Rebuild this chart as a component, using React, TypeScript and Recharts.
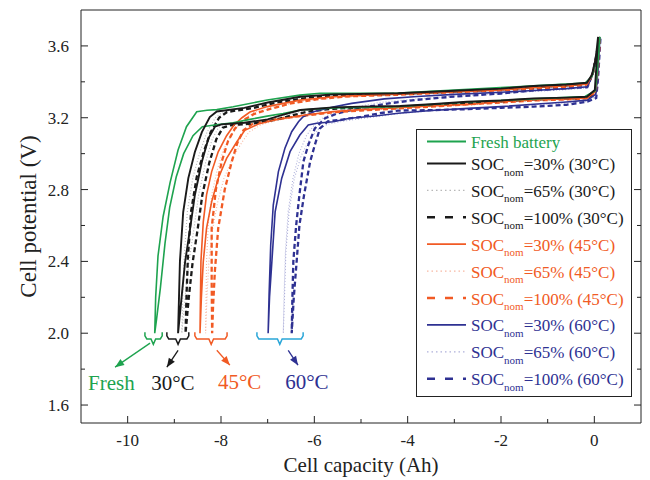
import { Legend, Line, LineChart, ReferenceDot, XAxis, YAxis } from "recharts";

const GREEN = "#1ea34f";
const BLACK = "#1a1a1a";
const ORANGE = "#f15a24";
const BLUE = "#2e3192";
const CYAN = "#2aa6d8";
const INK = "#222";

type Pt = [number, number];

// loops: spike top -> discharge (lower branch) -> 2.0 V -> charge (upper branch) -> spike top
const freshLoop: Pt[] = [
  [0.12, 3.65], [0.06, 3.45], [0.02, 3.35], [-0.2, 3.318], [-1.3, 3.305], [-2.7, 3.288], [-4.2, 3.262], [-5.6, 3.255],
  [-6.3, 3.243], [-6.67, 3.224], [-7.01, 3.209], [-7.38, 3.191], [-7.74, 3.172], [-8.06, 3.162], [-8.4, 3.15], [-8.6, 3.1],
  [-8.8, 3.0], [-8.96, 2.87], [-9.1, 2.7], [-9.2, 2.5], [-9.3, 2.25], [-9.38, 2.08], [-9.42, 2.0],
  [-9.4, 2.2], [-9.35, 2.43], [-9.24, 2.65], [-9.09, 2.84], [-8.92, 3.02], [-8.74, 3.15], [-8.52, 3.233], [-8.3, 3.242],
  [-8.09, 3.245], [-7.74, 3.261], [-7.01, 3.299], [-6.31, 3.326], [-5.88, 3.336], [-4.2, 3.338], [-2.7, 3.358],
  [-1.3, 3.378], [-0.2, 3.393], [-0.05, 3.43], [0.04, 3.52], [0.12, 3.65],
];

const soc30At30: Pt[] = [
  [0.08, 3.65], [0.04, 3.47], [0.01, 3.354], [-0.16, 3.317], [-0.6, 3.312], [-1.3, 3.308], [-2.0, 3.296], [-2.73, 3.289],
  [-3.5, 3.275], [-4.16, 3.265], [-5.0, 3.262], [-5.6, 3.258], [-6.3, 3.243], [-6.7, 3.215], [-7.0, 3.191], [-7.5, 3.172],
  [-7.99, 3.163], [-8.13, 3.15], [-8.27, 3.085], [-8.41, 2.955], [-8.56, 2.77], [-8.66, 2.586], [-8.77, 2.396], [-8.84, 2.212],
  [-8.92, 2.0],
  [-8.9, 2.2], [-8.88, 2.4], [-8.81, 2.675], [-8.7, 2.864], [-8.56, 3.009], [-8.41, 3.12], [-8.24, 3.204], [-8.09, 3.235],
  [-7.5, 3.255], [-7.0, 3.285], [-6.3, 3.317], [-5.6, 3.33], [-4.2, 3.336], [-3.0, 3.35], [-2.0, 3.362], [-1.3, 3.377],
  [-0.6, 3.385], [-0.16, 3.395], [-0.05, 3.44], [0.03, 3.53], [0.08, 3.65],
];

const soc65At30: Pt[] = [
  [0.09, 3.64], [0.05, 3.46], [0.02, 3.35], [-0.15, 3.315], [-0.6, 3.31], [-1.3, 3.305], [-2.0, 3.294], [-2.7, 3.286],
  [-3.5, 3.272], [-4.2, 3.263], [-5.0, 3.26], [-5.6, 3.254], [-6.2, 3.24], [-6.6, 3.214], [-6.9, 3.19], [-7.4, 3.17],
  [-7.9, 3.16], [-8.05, 3.147], [-8.19, 3.08], [-8.33, 2.95], [-8.48, 2.77], [-8.58, 2.58], [-8.69, 2.39], [-8.77, 2.2],
  [-8.84, 2.0],
  [-8.82, 2.2], [-8.79, 2.42], [-8.72, 2.68], [-8.6, 2.87], [-8.45, 3.01], [-8.3, 3.12], [-8.12, 3.2], [-7.95, 3.235],
  [-7.4, 3.258], [-6.9, 3.288], [-6.2, 3.315], [-5.5, 3.328], [-4.2, 3.335], [-3.0, 3.348], [-2.0, 3.36], [-1.3, 3.373],
  [-0.6, 3.383], [-0.15, 3.392], [-0.04, 3.44], [0.04, 3.55], [0.09, 3.64],
];

const soc100At30: Pt[] = [
  [0.1, 3.63], [0.06, 3.45], [0.03, 3.345], [-0.14, 3.312], [-0.6, 3.307], [-1.3, 3.302], [-2.0, 3.291], [-2.7, 3.283],
  [-3.5, 3.27], [-4.2, 3.26], [-5.0, 3.257], [-5.6, 3.25], [-6.1, 3.236], [-6.5, 3.212], [-6.8, 3.19], [-7.3, 3.168],
  [-7.8, 3.158], [-7.96, 3.145], [-8.1, 3.08], [-8.25, 2.95], [-8.4, 2.77], [-8.5, 2.58], [-8.61, 2.39], [-8.69, 2.2],
  [-8.76, 2.0],
  [-8.74, 2.2], [-8.71, 2.42], [-8.64, 2.68], [-8.52, 2.87], [-8.37, 3.01], [-8.22, 3.12], [-8.04, 3.2], [-7.87, 3.232],
  [-7.3, 3.255], [-6.8, 3.285], [-6.1, 3.312], [-5.4, 3.326], [-4.2, 3.333], [-3.0, 3.346], [-2.0, 3.358], [-1.3, 3.37],
  [-0.6, 3.38], [-0.14, 3.39], [-0.03, 3.45], [0.05, 3.56], [0.1, 3.63],
];

const soc30At45: Pt[] = [
  [0.11, 3.65], [0.06, 3.45], [0.02, 3.345], [-0.15, 3.31], [-0.6, 3.305], [-1.3, 3.3], [-2.0, 3.29], [-2.6, 3.275],
  [-3.5, 3.265], [-4.2, 3.256], [-5.0, 3.245], [-5.6, 3.234], [-6.2, 3.215], [-6.8, 3.19], [-7.2, 3.165], [-7.49, 3.13],
  [-7.66, 3.066], [-7.88, 2.974], [-8.06, 2.862], [-8.2, 2.732], [-8.31, 2.584], [-8.38, 2.398], [-8.42, 2.2], [-8.45, 2.0],
  [-8.44, 2.2], [-8.43, 2.4], [-8.38, 2.62], [-8.31, 2.77], [-8.2, 2.9], [-8.06, 3.01], [-7.88, 3.1], [-7.72, 3.16],
  [-7.55, 3.2], [-7.38, 3.232], [-7.01, 3.262], [-6.31, 3.298], [-5.6, 3.317], [-4.87, 3.326], [-4.2, 3.332], [-3.0, 3.345],
  [-2.0, 3.355], [-1.3, 3.368], [-0.6, 3.378], [-0.15, 3.388], [-0.04, 3.44], [0.05, 3.55], [0.11, 3.65],
];

const soc65At45: Pt[] = [
  [0.11, 3.64], [0.07, 3.44], [0.03, 3.34], [-0.14, 3.306], [-0.6, 3.3], [-1.3, 3.295], [-2.0, 3.285], [-2.6, 3.272],
  [-3.5, 3.262], [-4.2, 3.252], [-5.0, 3.24], [-5.6, 3.23], [-6.2, 3.21], [-6.8, 3.186], [-7.15, 3.16], [-7.4, 3.12],
  [-7.56, 3.06], [-7.76, 2.97], [-7.94, 2.86], [-8.07, 2.73], [-8.18, 2.58], [-8.26, 2.4], [-8.3, 2.2], [-8.33, 2.0],
  [-8.32, 2.2], [-8.31, 2.4], [-8.27, 2.62], [-8.19, 2.78], [-8.08, 2.91], [-7.95, 3.02], [-7.79, 3.1], [-7.62, 3.16],
  [-7.46, 3.2], [-7.3, 3.23], [-6.95, 3.256], [-6.25, 3.292], [-5.5, 3.312], [-4.8, 3.322], [-4.2, 3.328], [-3.0, 3.342],
  [-2.0, 3.352], [-1.3, 3.364], [-0.6, 3.374], [-0.14, 3.385], [-0.03, 3.45], [0.06, 3.56], [0.11, 3.64],
];

const soc100At45: Pt[] = [
  [0.12, 3.64], [0.07, 3.44], [0.03, 3.34], [-0.13, 3.308], [-0.6, 3.302], [-1.3, 3.296], [-2.0, 3.285], [-2.7, 3.275],
  [-3.5, 3.262], [-4.2, 3.252], [-5.0, 3.24], [-5.6, 3.23], [-6.1, 3.215], [-6.6, 3.2], [-7.0, 3.185], [-7.3, 3.17],
  [-7.52, 3.13], [-7.65, 3.06], [-7.77, 2.955], [-7.92, 2.8], [-8.06, 2.584], [-8.13, 2.35], [-8.17, 2.15], [-8.19, 2.0],
  [-8.2, 2.3], [-8.2, 2.584], [-8.11, 2.8], [-7.985, 2.955], [-7.85, 3.07], [-7.7, 3.14], [-7.5, 3.19], [-7.3, 3.22],
  [-7.0, 3.245], [-6.5, 3.28], [-5.9, 3.305], [-5.2, 3.32], [-4.2, 3.328], [-3.0, 3.342], [-2.0, 3.352], [-1.3, 3.362],
  [-0.6, 3.372], [-0.13, 3.385], [-0.03, 3.45], [0.06, 3.56], [0.12, 3.64],
];

const soc30At60: Pt[] = [
  [0.12, 3.65], [0.07, 3.44], [0.03, 3.33], [-0.15, 3.298], [-0.6, 3.288], [-1.3, 3.275], [-2.0, 3.262], [-2.7, 3.252],
  [-3.5, 3.24], [-4.2, 3.225], [-4.7, 3.21], [-5.24, 3.197], [-5.6, 3.178], [-5.95, 3.169], [-6.13, 3.16], [-6.31, 3.104],
  [-6.52, 3.011], [-6.7, 2.862], [-6.84, 2.676], [-6.91, 2.398], [-6.96, 2.2], [-6.99, 2.0],
  [-6.97, 2.21], [-6.935, 2.49], [-6.88, 2.714], [-6.77, 2.9], [-6.63, 3.03], [-6.485, 3.122], [-6.34, 3.178], [-6.24, 3.206],
  [-6.0, 3.235], [-5.6, 3.26], [-5.2, 3.28], [-4.5, 3.305], [-3.8, 3.318], [-3.0, 3.33], [-2.0, 3.342], [-1.3, 3.352],
  [-0.6, 3.362], [-0.15, 3.372], [-0.04, 3.44], [0.05, 3.56], [0.12, 3.65],
];

const soc65At60: Pt[] = [
  [0.12, 3.64], [0.08, 3.44], [0.04, 3.32], [-0.15, 3.29], [-0.6, 3.282], [-1.3, 3.272], [-2.0, 3.26], [-2.7, 3.25],
  [-3.5, 3.238], [-4.2, 3.222], [-4.6, 3.208], [-5.0, 3.195], [-5.4, 3.18], [-5.7, 3.165], [-5.9, 3.14], [-6.1, 3.08],
  [-6.28, 2.99], [-6.43, 2.86], [-6.54, 2.68], [-6.61, 2.45], [-6.64, 2.2], [-6.665, 2.0],
  [-6.65, 2.2], [-6.62, 2.45], [-6.56, 2.68], [-6.46, 2.86], [-6.33, 3.0], [-6.17, 3.1], [-6.0, 3.16], [-5.85, 3.195],
  [-5.6, 3.225], [-5.2, 3.255], [-4.6, 3.285], [-3.8, 3.305], [-3.0, 3.32], [-2.0, 3.335], [-1.3, 3.346], [-0.6, 3.356],
  [-0.15, 3.366], [-0.04, 3.44], [0.06, 3.56], [0.12, 3.64],
];

const soc100At60: Pt[] = [
  [0.13, 3.64], [0.08, 3.42], [0.04, 3.31], [-0.15, 3.29], [-0.6, 3.272], [-1.3, 3.262], [-2.0, 3.255], [-2.7, 3.248],
  [-3.5, 3.242], [-4.2, 3.24], [-4.6, 3.225], [-5.0, 3.205], [-5.4, 3.19], [-5.71, 3.18], [-5.88, 3.14], [-5.99, 3.048],
  [-6.09, 2.955], [-6.22, 2.77], [-6.32, 2.6], [-6.38, 2.396], [-6.44, 2.2], [-6.485, 2.0],
  [-6.47, 2.2], [-6.45, 2.4], [-6.39, 2.6], [-6.32, 2.77], [-6.235, 2.955], [-6.13, 3.048], [-5.99, 3.14], [-5.77, 3.197],
  [-5.5, 3.225], [-5.0, 3.255], [-4.4, 3.28], [-3.8, 3.3], [-3.0, 3.318], [-2.0, 3.335], [-1.3, 3.352], [-0.6, 3.365],
  [-0.15, 3.37], [-0.03, 3.45], [0.07, 3.56], [0.13, 3.64],
];

const xTicks = [-10, -9, -8, -7, -6, -5, -4, -3, -2, -1, 0];
const yTicks = [1.6, 1.8, 2.0, 2.2, 2.4, 2.6, 2.8, 3.0, 3.2, 3.4, 3.6];

// groups under the 2.0 V ends: [left, middle, right] of the brace
const braceSpans: [number, number, number][] = [
  [-9.63, -9.45, -9.26],
  [-9.16, -8.92, -8.69],
  [-8.56, -8.21, -7.87],
  [-7.23, -6.74, -6.24],
];
const arrowPaths: [number, number, number, number][] = [
  [-9.52, 1.945, -10.27, 1.811],
  [-8.92, 1.905, -9.16, 1.811],
  [-8.09, 1.905, -7.81, 1.822],
  [-6.56, 1.905, -6.35, 1.822],
];
const groupLabels = ["Fresh", "30°C", "45°C", "60°C"];
const groupLabelSpots: [number, number][] = [
  [-10.35, 1.728],
  [-9.03, 1.728],
  [-7.6, 1.733],
  [-6.16, 1.733],
];
const braceColors = [GREEN, BLACK, ORANGE, CYAN];
const groupColors = [GREEN, BLACK, ORANGE, BLUE];

type Kind = "solid" | "dotted" | "dashed";
type Series = { key: string; soc?: string; temp?: string; color: string; pale: string; kind: Kind; data: Pt[] };

const series: Series[] = [
  { key: "fresh", color: GREEN, pale: GREEN, kind: "solid", data: freshLoop },
  { key: "s30t30", soc: "30%", temp: "30°C", color: BLACK, pale: "#b8b8b8", kind: "solid", data: soc30At30 },
  { key: "s65t30", soc: "65%", temp: "30°C", color: BLACK, pale: "#b8b8b8", kind: "dotted", data: soc65At30 },
  { key: "s100t30", soc: "100%", temp: "30°C", color: BLACK, pale: "#b8b8b8", kind: "dashed", data: soc100At30 },
  { key: "s30t45", soc: "30%", temp: "45°C", color: ORANGE, pale: "#f7b8a2", kind: "solid", data: soc30At45 },
  { key: "s65t45", soc: "65%", temp: "45°C", color: ORANGE, pale: "#f7b8a2", kind: "dotted", data: soc65At45 },
  { key: "s100t45", soc: "100%", temp: "45°C", color: ORANGE, pale: "#f7b8a2", kind: "dashed", data: soc100At45 },
  { key: "s30t60", soc: "30%", temp: "60°C", color: BLUE, pale: "#aeb0da", kind: "solid", data: soc30At60 },
  { key: "s65t60", soc: "65%", temp: "60°C", color: BLUE, pale: "#aeb0da", kind: "dotted", data: soc65At60 },
  { key: "s100t60", soc: "100%", temp: "60°C", color: BLUE, pale: "#aeb0da", kind: "dashed", data: soc100At60 },
];

const toRows = (pts: Pt[]) => pts.map(([cap, volt]) => ({ cap, volt }));

const plotStroke = (s: Series) => {
  if (s.kind === "dotted") return { stroke: s.pale, strokeWidth: 1.1, strokeDasharray: "1 2" };
  if (s.kind === "dashed") return { stroke: s.color, strokeWidth: 2.3, strokeDasharray: "5 3" };
  return { stroke: s.color, strokeWidth: s.color === BLACK ? 1.9 : 1.6 };
};

const legendStroke = (s: Series) => {
  if (s.kind === "dotted") return { stroke: s.pale, strokeWidth: 1.2, strokeDasharray: "1.5 3" };
  if (s.kind === "dashed") return { stroke: s.color, strokeWidth: 2.4, strokeDasharray: "8 10" };
  return { stroke: s.color, strokeWidth: 1.8 };
};

const braceShape = ([l, m, r]: [number, number, number]) => [
  { cap: l, volt: 2.005 },
  { cap: l, volt: 1.985 },
  { cap: l + 0.04, volt: 1.968 },
  { cap: m - 0.05, volt: 1.968 },
  { cap: m, volt: 1.938 },
  { cap: m + 0.05, volt: 1.968 },
  { cap: r - 0.04, volt: 1.968 },
  { cap: r, volt: 1.985 },
  { cap: r, volt: 2.005 },
];

const arrowHead = (color: string) => (p: any) => {
  const pts = p.points;
  if (p.index !== 1 || !pts || pts.length < 2) return <g key={`ah-${p.index}`} />;
  const a = pts[0];
  const b = pts[1];
  const ang = Math.atan2(b.y - a.y, b.x - a.x);
  const bx = b.x - 9 * Math.cos(ang);
  const by = b.y - 9 * Math.sin(ang);
  const nx = -Math.sin(ang) * 3.6;
  const ny = Math.cos(ang) * 3.6;
  return (
    <polygon
      key={`ah-${p.index}`}
      points={`${b.x},${b.y} ${bx + nx},${by + ny} ${bx - nx},${by - ny}`}
      fill={color}
    />
  );
};

const BottomTick = (props: any) => {
  const { x, y, payload } = props;
  const v = payload.value;
  const major = v % 2 === 0;
  return (
    <g>
      <line x1={x} x2={x} y1={y} y2={y - (major ? 7 : 4)} stroke={INK} />
      {major && (
        <text x={x} y={y + 23} textAnchor="middle" fontSize={17} fill={INK}>
          {String(v)}
        </text>
      )}
    </g>
  );
};

const TopTick = (props: any) => {
  const { x, y, payload } = props;
  const major = payload.value % 2 === 0;
  return <line x1={x} x2={x} y1={y} y2={y + (major ? 7 : 4)} stroke={INK} />;
};

const LeftTick = (props: any) => {
  const { x, y, payload } = props;
  const v = payload.value;
  const major = Math.round(v * 10) % 4 === 0;
  return (
    <g>
      <line x1={x} x2={x + (major ? 7 : 4)} y1={y} y2={y} stroke={INK} />
      {major && (
        <text x={x - 12} y={y + 6} textAnchor="end" fontSize={17} fill={INK}>
          {v.toFixed(1)}
        </text>
      )}
    </g>
  );
};

const RightTick = (props: any) => {
  const { x, y, payload } = props;
  const major = Math.round(payload.value * 10) % 4 === 0;
  return <line x1={x} x2={x - (major ? 7 : 4)} y1={y} y2={y} stroke={INK} />;
};

function LegendBox() {
  return (
    <svg width={216} height={268} style={{ display: "block", overflow: "visible" }}>
      <rect x={0.5} y={0.5} width={215} height={267} fill="#fff" stroke={INK} />
      {series.map((s, i) => {
        const cy = i === 0 ? 12.5 : 34.5 + (i - 1) * 26.9;
        return (
          <g key={s.key}>
            <line x1={11} x2={50} y1={cy} y2={cy} {...legendStroke(s)} />
            <text x={55} y={cy + 6.5} fontSize={17} fill={s.color}>
              {s.soc ? (
                <>
                  <tspan>SOC</tspan>
                  <tspan fontSize={11} dy={5.5}>
                    nom
                  </tspan>
                  <tspan dy={-5.5}>{`=${s.soc} (${s.temp})`}</tspan>
                </>
              ) : (
                "Fresh battery"
              )}
            </text>
          </g>
        );
      })}
    </svg>
  );
}

const drawOrder = ["s65t30", "s65t45", "s65t60", "s100t60", "s100t45", "s100t30", "s30t60", "s30t45", "fresh", "s30t30"];

export default function App() {
  const ordered = drawOrder.map((k) => series.find((s) => s.key === k)!);
  return (
    <div
      style={{
        position: "absolute",
        left: 0,
        top: 0,
        width: 650,
        height: 480,
        background: "#fff",
        fontFamily: "'Liberation Serif', 'Times New Roman', serif",
      }}
    >
      <LineChart width={650} height={480} margin={{ top: 9, right: 8, bottom: 0, left: 0 }}>
        <XAxis
          dataKey="cap"
          type="number"
          domain={[-11, 1]}
          ticks={xTicks}
          interval={0}
          allowDataOverflow
          height={57}
          tickSize={0}
          tickMargin={0}
          tickLine={false}
          axisLine={{ stroke: INK }}
          tick={<BottomTick />}
          label={{ value: "Cell capacity (Ah)", position: "insideBottom", offset: 8, fontSize: 21, fill: INK }}
        />
        <XAxis
          xAxisId="top"
          orientation="top"
          type="number"
          domain={[-11, 1]}
          ticks={xTicks}
          interval={0}
          allowDataOverflow
          height={1}
          tickSize={0}
          tickMargin={0}
          tickLine={false}
          axisLine={{ stroke: INK }}
          tick={<TopTick />}
        />
        <YAxis
          type="number"
          domain={[1.5, 3.8]}
          ticks={yTicks}
          interval={0}
          allowDataOverflow
          width={81}
          tickSize={0}
          tickMargin={0}
          tickLine={false}
          axisLine={{ stroke: INK }}
          tick={<LeftTick />}
          label={{
            value: "Cell potential (V)",
            angle: -90,
            position: "insideLeft",
            offset: 28,
            fontSize: 23,
            fill: INK,
            style: { textAnchor: "middle" },
          }}
        />
        <YAxis
          yAxisId="right"
          orientation="right"
          type="number"
          domain={[1.5, 3.8]}
          ticks={yTicks}
          interval={0}
          allowDataOverflow
          width={1}
          tickSize={0}
          tickMargin={0}
          tickLine={false}
          axisLine={{ stroke: INK }}
          tick={<RightTick />}
        />

        {ordered.map((s) => (
          <Line
            key={s.key}
            data={toRows(s.data)}
            dataKey="volt"
            type="linear"
            dot={false}
            activeDot={false}
            legendType="none"
            isAnimationActive={false}
            {...plotStroke(s)}
          />
        ))}

        {braceSpans.map((span, i) => (
          <Line
            key={`brace-${i}`}
            data={braceShape(span)}
            dataKey="volt"
            type="linear"
            stroke={braceColors[i]}
            strokeWidth={1.5}
            dot={false}
            activeDot={false}
            legendType="none"
            isAnimationActive={false}
          />
        ))}

        {arrowPaths.map(([x0, y0, x1, y1], i) => (
          <Line
            key={`arrow-${i}`}
            data={[
              { cap: x0, volt: y0 },
              { cap: x1, volt: y1 },
            ]}
            dataKey="volt"
            type="linear"
            stroke={groupColors[i]}
            strokeWidth={1.3}
            dot={arrowHead(groupColors[i])}
            activeDot={false}
            legendType="none"
            isAnimationActive={false}
          />
        ))}

        {groupLabelSpots.map(([x, y], i) => (
          <ReferenceDot
            key={`lbl-${i}`}
            x={x}
            y={y}
            r={0}
            fill="none"
            stroke="none"
            label={{ value: groupLabels[i], position: "center", fontSize: 21, fill: groupColors[i] }}
          />
        ))}

        <Legend
          layout="vertical"
          align="center"
          verticalAlign="middle"
          content={() => <LegendBox />}
          wrapperStyle={{ left: 416, top: 129, width: 216, height: 268 }}
        />
      </LineChart>
    </div>
  );
}
